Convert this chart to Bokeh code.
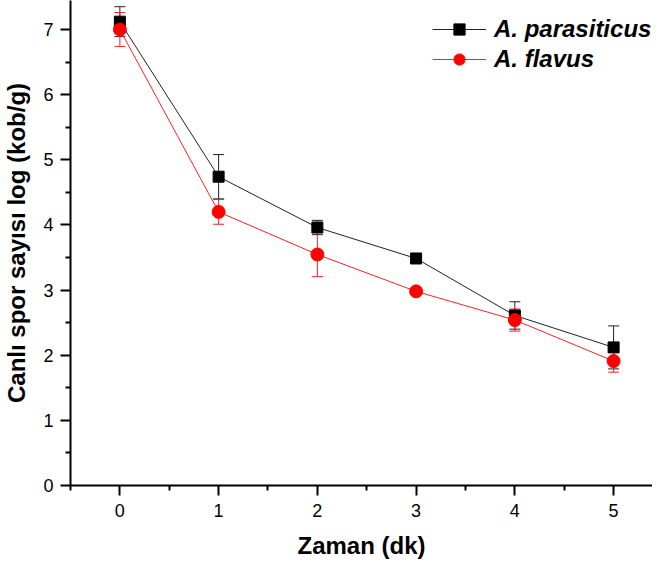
from bokeh.plotting import figure
from bokeh.models import (Range1d, FixedTicker, ColumnDataSource, Whisker, TeeHead,
                          Legend, LegendItem)
from bokeh.embed import file_html
from bokeh.resources import INLINE

# ---- data ----
zaman = [0, 1, 2, 3, 4, 5]
parasiticus = [7.12, 4.74, 3.96, 3.485, 2.61, 2.12]
parasiticus_err = [0.23, 0.34, 0.11, 0.06, 0.21, 0.33]
flavus = [7.00, 4.20, 3.546, 2.98, 2.54, 1.91]
flavus_err = [0.26, 0.19, 0.34, 0.03, 0.17, 0.17]
x_ticks = [0, 1, 2, 3, 4, 5]
y_ticks = [0, 1, 2, 3, 4, 5, 6, 7]
series_names = ["A. parasiticus", "A. flavus"]

TICK_FONT = "'Liberation Sans Narrow', 'Liberation Sans', Arial, sans-serif"
FONT = "'Liberation Sans', Arial, sans-serif"

p = figure(width=652, height=565, output_backend="svg", toolbar_location=None,
           x_range=Range1d(-0.5, 5.394), y_range=Range1d(0, 7.445),
           min_border_left=65, min_border_right=0, min_border_top=0, min_border_bottom=80)
p.outline_line_color = None
p.grid.visible = False
p.background_fill_color = "white"
p.border_fill_color = "white"

src_p = ColumnDataSource(dict(x=zaman, y=parasiticus,
                              lo=[v - e for v, e in zip(parasiticus, parasiticus_err)],
                              hi=[v + e for v, e in zip(parasiticus, parasiticus_err)]))
src_f = ColumnDataSource(dict(x=zaman, y=flavus,
                              lo=[v - e for v, e in zip(flavus, flavus_err)],
                              hi=[v + e for v, e in zip(flavus, flavus_err)]))

# black series
lp = p.line("x", "y", source=src_p, line_color="#222222", line_width=1)
wp = Whisker(source=src_p, base="x", upper="hi", lower="lo", line_color="#222222", line_width=1,
             upper_head=TeeHead(size=11, line_color="#222222", line_width=1),
             lower_head=TeeHead(size=11, line_color="#222222", line_width=1))
p.add_layout(wp)
sp = p.scatter("x", "y", source=src_p, marker="square", size=11,
               fill_color="black", line_color="black")

# red series
lf = p.line("x", "y", source=src_f, line_color="#ff2020", line_width=1)
wf = Whisker(source=src_f, base="x", upper="hi", lower="lo", line_color="#ff2020", line_width=1,
             upper_head=TeeHead(size=11, line_color="#ff2020", line_width=1),
             lower_head=TeeHead(size=11, line_color="#ff2020", line_width=1))
p.add_layout(wf)
sf = p.scatter("x", "y", source=src_f, marker="circle", size=13,
               fill_color="red", line_color="red")

# axes
for ax in (p.xaxis[0], p.yaxis[0]):
    ax.axis_line_width = 2
    ax.axis_line_color = "black"
    ax.major_tick_line_width = 2
    ax.minor_tick_line_width = 2
    ax.major_tick_in = 0
    ax.major_tick_out = 10
    ax.minor_tick_in = 0
    ax.minor_tick_out = 5
    ax.major_label_text_font = TICK_FONT
    ax.major_label_text_font_size = "18px"
    ax.major_label_text_color = "black"
    ax.axis_label_text_font = FONT
    ax.axis_label_text_font_size = "24px"
    ax.axis_label_text_font_style = "bold"
    ax.axis_label_text_color = "black"

p.xaxis[0].ticker = FixedTicker(ticks=x_ticks, minor_ticks=[t + 0.5 for t in [-1] + x_ticks])
p.yaxis[0].ticker = FixedTicker(ticks=y_ticks, minor_ticks=[t + 0.5 for t in y_ticks])
p.xaxis[0].axis_label = "Zaman (dk)"
p.yaxis[0].axis_label = "Canlı spor sayısı log (kob/g)"
p.xaxis[0].major_label_standoff = 8
p.yaxis[0].major_label_standoff = 7
p.xaxis[0].axis_label_standoff = 12
p.yaxis[0].axis_label_standoff = 10

legend = Legend(items=[LegendItem(label=series_names[0], renderers=[lp, sp]),
                       LegendItem(label=series_names[1], renderers=[lf, sf])],
                location=(362, 412), padding=0, spacing=2, glyph_width=54, glyph_height=28,
                label_standoff=8, label_height=28,
                label_text_font=FONT, label_text_font_size="24px",
                label_text_font_style="bold italic", label_text_color="black",
                border_line_color=None, background_fill_alpha=0, margin=0)
p.add_layout(legend)

open("out.html", "w").write(file_html(p, INLINE))
